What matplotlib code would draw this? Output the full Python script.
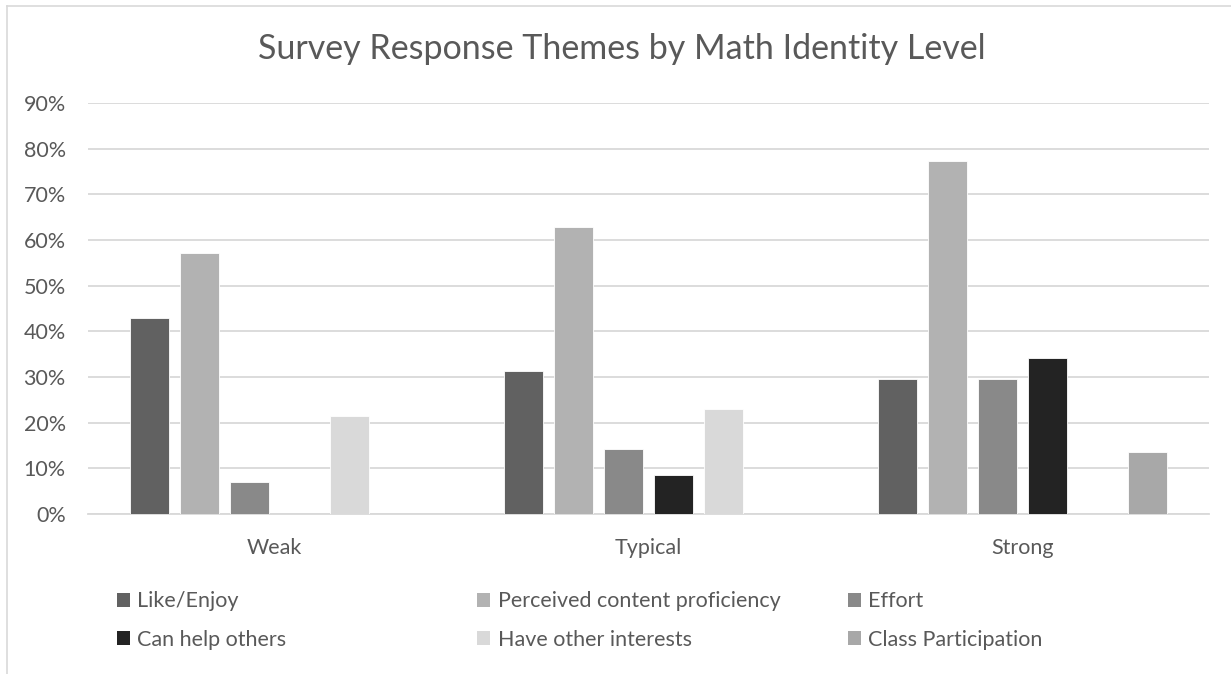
import matplotlib.pyplot as plt
import numpy as np
from matplotlib.lines import Line2D
from matplotlib.patches import Patch

levels = ["Weak", "Typical", "Strong"]
themes = [
    "Like/Enjoy",
    "Perceived content proficiency",
    "Effort",
    "Can help others",
    "Have other interests",
    "Class Participation",
]
like_enjoy = [42.9, 31.4, 29.5]
content_proficiency = [57.1, 62.9, 77.3]
effort = [7.1, 14.3, 29.5]
help_others = [0.0, 8.6, 34.1]
other_interests = [21.4, 22.9, 0.0]
class_participation = [0.0, 0.0, 13.6]
series = [like_enjoy, content_proficiency, effort, help_others,
          other_interests, class_participation]
colors = ["#616161", "#b2b2b2", "#898989", "#232323", "#d9d9d9", "#a8a8a8"]

plt.rcParams["font.family"] = ["Lato", "DejaVu Sans"]
text_color = "#595959"
grid_color = "#d9d9d9"

fig = plt.figure(figsize=(12.31, 6.74), dpi=100)
ax = fig.add_axes([0.0715, 0.2374, 0.9105, 0.6096])

x = np.arange(len(levels))
slot = 0.1338
width = 0.1044
for i, (vals, col) in enumerate(zip(series, colors)):
    ax.bar(x + (i - 2.5) * slot, vals, width=width, color=col,
           edgecolor="white", linewidth=0.6, zorder=3)

ax.set_xlim(-0.5, 2.5)
ax.set_ylim(0, 90)
ax.set_yticks(np.arange(0, 91, 10))
ax.set_yticklabels([f"{v}%" for v in range(0, 91, 10)])
ax.set_xticks(x)
ax.set_xticklabels(levels)
ax.tick_params(axis="both", length=0, labelsize=15.5, colors=text_color)
ax.tick_params(axis="y", pad=16)
ax.tick_params(axis="x", pad=17)
ax.grid(axis="y", color=grid_color, linewidth=1.3, zorder=0)
for side in ["top", "right", "left"]:
    ax.spines[side].set_visible(False)
ax.spines["bottom"].set_color(grid_color)
ax.spines["bottom"].set_linewidth(1.3)

fig.text(0.505, 0.928, "Survey Response Themes by Math Identity Level",
         ha="center", va="center", fontsize=24.5, color=text_color)

# legend laid out as three fixed-position columns of two rows
col_x = [0.086, 0.379, 0.680]
for c in range(3):
    handles = [Patch(facecolor=colors[c], edgecolor="none", label=themes[c]),
               Patch(facecolor=colors[c + 3], edgecolor="none", label=themes[c + 3])]
    fig.legend(handles=handles, loc="upper left",
               bbox_to_anchor=(col_x[c], 0.1385), frameon=False,
               fontsize=15.5, handlelength=0.6, handleheight=0.6,
               handletextpad=0.35, labelspacing=0.85, borderpad=0,
               labelcolor=text_color)

# chart border along the top and left edges
fig.add_artist(Line2D([6.5 / 1231, 1.0], [1 - 5.5 / 674] * 2,
                      transform=fig.transFigure, color=grid_color, linewidth=1.2))
fig.add_artist(Line2D([6.5 / 1231] * 2, [0.0, 1 - 5.5 / 674],
                      transform=fig.transFigure, color=grid_color, linewidth=1.2))

fig.savefig("out.png", dpi=100)
